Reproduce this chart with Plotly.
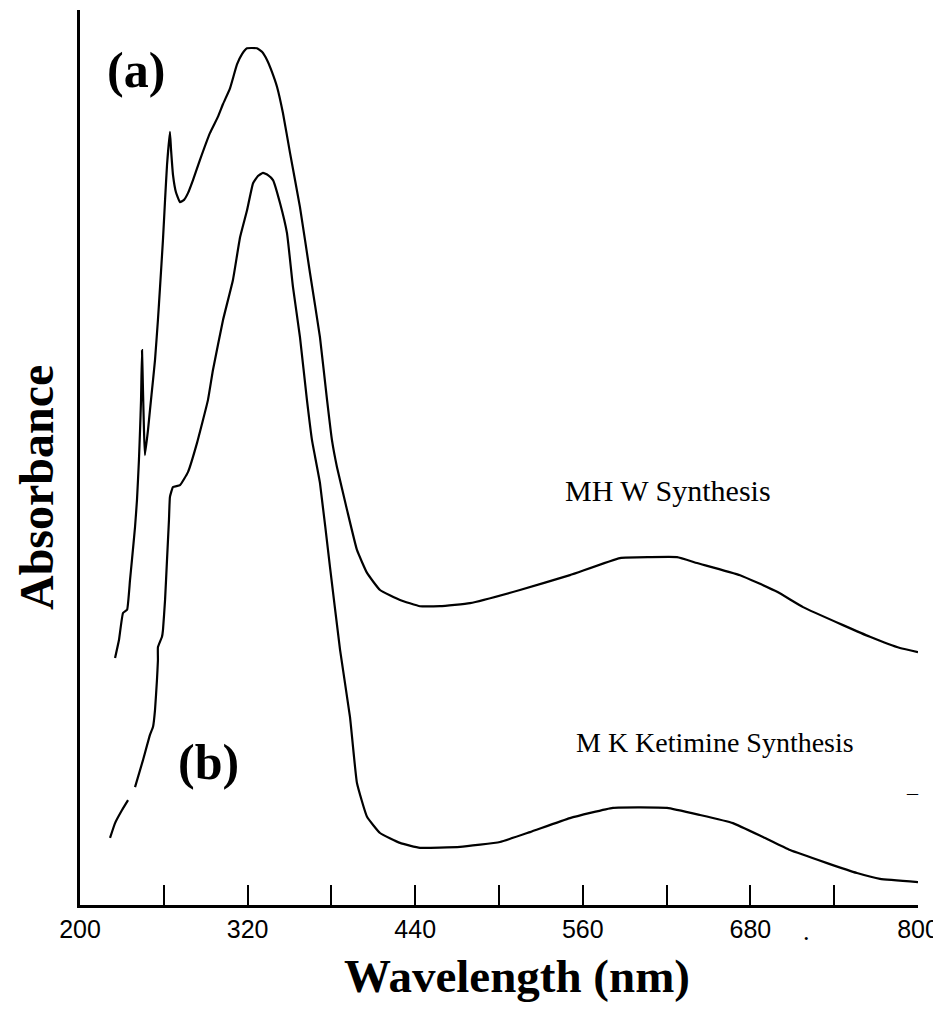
import plotly.graph_objects as go

# ---- data (wavelength in nm, absorbance in arbitrary units) ----
wl_a = [225.1, 227.9, 230.8, 233.7, 235.8, 237.2, 239.4, 240.8, 242.2, 243.0, 243.7, 244.4,
        245.1, 245.8, 246.5, 248.7, 250.1, 252.3, 253.7, 255.8, 257.3, 259.4, 260.9, 262.3,
        264.4, 265.2, 266.6, 268.7, 271.6, 274.5, 277.3, 280.9, 285.9, 293.1, 298.8, 302.4,
        307.4, 312.4, 316.0, 319.6, 326.7, 330.3, 333.9, 337.5, 341.1, 345.3, 350.4, 357.5,
        364.7, 371.8, 376.9, 380.4, 384.0, 391.2, 398.3, 405.5, 414.8, 429.1, 443.4, 457.8,
        479.2, 515.0, 550.8, 586.6, 608.1, 627.5, 641.8, 672.6, 699.1, 717.7, 746.3, 765.6,
        787.1, 800.0]
abs_a = [0.549, 0.589, 0.649, 0.656, 0.722, 0.767, 0.840, 0.900, 0.989, 1.056, 1.122, 1.233,
         1.144, 1.056, 1.000, 1.056, 1.100, 1.167, 1.211, 1.300, 1.373, 1.478, 1.567, 1.644,
         1.718, 1.678, 1.622, 1.584, 1.562, 1.567, 1.582, 1.611, 1.656, 1.716, 1.752, 1.780,
         1.815, 1.868, 1.891, 1.904, 1.904, 1.896, 1.878, 1.851, 1.818, 1.760, 1.671, 1.551,
         1.404, 1.262, 1.122, 1.033, 0.973, 0.878, 0.789, 0.738, 0.700, 0.678, 0.664, 0.664,
         0.671, 0.700, 0.733, 0.771, 0.773, 0.773, 0.760, 0.733, 0.696, 0.662, 0.622, 0.596,
         0.571, 0.562]

wl_b = [221.5, 225.1, 230.1, 234.4, None, 239.4, 245.1, 250.1, 252.3, 253.7, 255.1, 255.8,
        255.8, 258.7, 259.4, 260.9, 262.3, 263.7, 264.4, 266.6, 271.6, 277.3, 283.8, 291.6,
        295.2, 302.4, 309.5, 314.6, 319.6, 323.9, 327.4, 331.0, 334.6, 338.2, 343.2, 348.2,
        352.5, 357.5, 362.5, 366.1, 371.8, 379.0, 386.2, 393.3, 398.3, 405.5, 414.8, 429.1,
        443.4, 472.1, 500.7, 522.2, 550.8, 581.6, 620.3, 643.9, 667.5, 689.0, 708.4, 734.9,
        756.3, 772.8, 800.0]
abs_b = [0.149, 0.182, 0.211, 0.233, None, 0.262, 0.322, 0.378, 0.396, 0.433, 0.500, 0.544,
         0.573, 0.596, 0.611, 0.678, 0.767, 0.856, 0.907, 0.929, 0.933, 0.962, 1.027, 1.122,
         1.189, 1.300, 1.389, 1.484, 1.544, 1.604, 1.620, 1.627, 1.622, 1.611, 1.560, 1.493,
         1.373, 1.262, 1.122, 1.033, 0.938, 0.751, 0.567, 0.418, 0.271, 0.196, 0.160, 0.138,
         0.127, 0.129, 0.140, 0.162, 0.193, 0.216, 0.216, 0.200, 0.182, 0.151, 0.122, 0.093,
         0.071, 0.058, 0.051]

tick_values = [200, 260, 320, 380, 440, 500, 560, 620, 680, 740, 800]
tick_labels = ["200", "", "320", "", "440", "", "560", "", "680", "", "800"]

series_names = ["MH W Synthesis", "M K Ketimine Synthesis"]
panel_labels = ["(a)", "(b)"]

# page body has an 8px margin; figure starts at (8, 8) in the window
OFF = 8
W, H = 941 - OFF, 1013 - 2 * OFF
L, T = 80 - OFF, 10 - OFF
R = W - (918 - OFF)
B = H - (905 - OFF)


def px(xp, yp):
    """screenshot pixel -> paper coordinates"""
    fx, fy = xp - OFF, yp - OFF
    return (fx - L) / (W - L - R), (H - B - fy) / (H - T - B)


fig = go.Figure()
for wl, ab, nm in [(wl_a, abs_a, series_names[0]), (wl_b, abs_b, series_names[1])]:
    fig.add_trace(go.Scatter(x=wl, y=ab, mode="lines", name=nm,
                             line=dict(color="black", width=2.2, shape="spline", smoothing=0.35),
                             connectgaps=False, showlegend=False, cliponaxis=False))

serif = "Liberation Serif, Times New Roman, serif"
annots = []


def add_text(text, xp, yp, size, bold=False, xanchor="center", yanchor="middle", angle=0):
    xx, yy = px(xp, yp)
    annots.append(dict(text=("<b>%s</b>" % text) if bold else text, x=xx, y=yy,
                       xref="paper", yref="paper", showarrow=False,
                       xanchor=xanchor, yanchor=yanchor, textangle=angle,
                       font=dict(family=serif, size=size, color="black")))


add_text(panel_labels[0], 136, 70, 50, bold=True)
add_text(panel_labels[1], 208, 762, 50, bold=True)
add_text(series_names[0], 773, 490, 30, xanchor="right")
add_text(series_names[1], 856, 742, 28, xanchor="right")
add_text("Wavelength (nm)", 517, 976, 47, bold=True)
add_text("Absorbance", 36, 488, 48, bold=True, angle=-90)
add_text("–", 912, 792, 22)
add_text(".", 806, 932, 26)

fig.update_layout(
    width=W, height=H, autosize=False,
    margin=dict(l=L, r=R, t=T, b=B, pad=0),
    paper_bgcolor="white", plot_bgcolor="white",
    annotations=annots,
    xaxis=dict(range=[200, 800], tickmode="array", tickvals=tick_values, ticktext=tick_labels,
               ticks="inside", ticklen=20, tickwidth=2, tickcolor="black",
               showline=True, linecolor="black", linewidth=3, showgrid=False, zeroline=False,
               tickfont=dict(family="Liberation Sans, Arial, sans-serif", size=25, color="black"),
               ticklabelstandoff=0, ticklabeloverflow="allow"),
    yaxis=dict(range=[0, 1.989], showline=True, linecolor="black", linewidth=3,
               showticklabels=False, ticks="", showgrid=False, zeroline=False),
)

fig.write_html("out.html")
